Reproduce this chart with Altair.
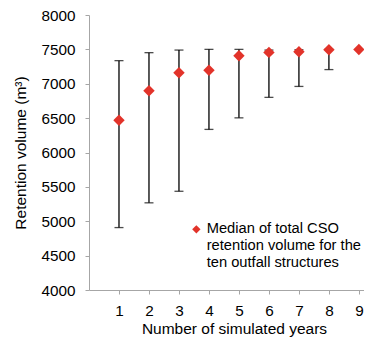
import altair as alt
import pandas as pd

years = [1, 2, 3, 4, 5, 6, 7, 8, 9]
median = [6470, 6899, 7159, 7196, 7408, 7456, 7466, 7495, 7498]
upper = [7336, 7452, 7490, 7500, 7500, 7490, 7495, 7500, None]
lower = [4908, 5268, 5436, 6336, 6504, 6802, 6961, 7206, None]
series_label = "Median of total CSO\nretention volume for the\nten outfall structures"

df = pd.DataFrame({"year": years, "median": median, "upper": upper, "lower": lower,
                   "series": [series_label] * len(years)})

FONT = "Liberation Sans"
RED = "#e2332a"
LBL = 15.3
TTL = 15.5

x = alt.X("year:Q", scale=alt.Scale(domain=[0, 9.17], nice=False),
          axis=alt.Axis(values=years, tickCount=20, format="d", labelOverlap=False,
                        title="Number of simulated years", grid=False,
                        domainColor="#a6a6a6", tickColor="#a6a6a6", tickSize=4,
                        labelPadding=9, titlePadding=3, labelFontSize=LBL,
                        titleFontSize=TTL, labelFont=FONT, titleFont=FONT, titleX=145,
                        titleFontWeight="normal", labelColor="#000", titleColor="#000"))

yscale = alt.Scale(domain=[4000, 8000], nice=False)
yaxis = alt.Axis(values=list(range(4000, 8001, 500)), tickCount=20, format="d",
                 labelOverlap=False, title="Retention volume (m³)", grid=False,
                 domainColor="#a6a6a6", tickColor="#a6a6a6", tickSize=4, labelPadding=10,
                 titlePadding=12, labelFontSize=LBL, titleFontSize=TTL, labelFont=FONT,
                 titleFont=FONT, titleFontWeight="normal", labelColor="#000", titleColor="#000")

base = alt.Chart(df)
err = base.transform_filter("isValid(datum.lower)")

rule = err.mark_rule(color="#000", strokeWidth=1.3).encode(
    x=x, y=alt.Y("lower:Q", scale=yscale, axis=yaxis), y2="upper:Q")
cap_lo = err.mark_tick(color="#000", orient="horizontal", size=9, thickness=1.3).encode(
    x="year:Q", y="lower:Q")
cap_hi = err.mark_tick(color="#000", orient="horizontal", size=9, thickness=1.3).encode(
    x="year:Q", y="upper:Q")
pts = base.mark_point(shape="diamond", filled=True, size=130, opacity=1).encode(
    x="year:Q", y="median:Q",
    color=alt.Color("series:N", scale=alt.Scale(range=[RED]),
                    legend=alt.Legend(title=None, orient="none", legendX=100, legendY=207,
                                      symbolType="diamond", symbolSize=70, labelFontSize=14.7,
                                      labelFont=FONT, labelColor="#000", padding=0,
                                      labelOffset=3, labelLimit=400,
                                      labelExpr="split(datum.label, '\\n')")))

chart = (rule + cap_lo + cap_hi + pts).properties(
    width=275, height=275, autosize="none",
    padding={"left": 81, "top": 7, "right": 0, "bottom": 47}
).configure_view(stroke=None)

chart.save("out.html", embed_options={"renderer": "svg", "actions": False})
